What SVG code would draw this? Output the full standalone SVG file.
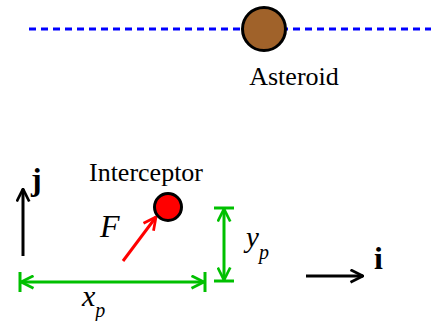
<svg xmlns="http://www.w3.org/2000/svg" width="431" height="321" viewBox="0 0 431 321">
<style>
text{font-family:'Liberation Serif','Times New Roman',serif;fill:#000}
.g{stroke:#00c000;stroke-width:3;fill:none}
.k{stroke:#000;stroke-width:3;fill:none}
</style>
<defs>
<marker id="ag" viewBox="0 0 12 12" refX="11" refY="6" markerWidth="5" markerHeight="5" orient="auto-start-reverse" markerUnits="strokeWidth"><path d="M1,1 L11,6 L1,11" fill="none" stroke="#00c000" stroke-width="2.2"/></marker>
<marker id="ak" viewBox="0 0 12 12" refX="11" refY="6" markerWidth="5" markerHeight="5" orient="auto" markerUnits="strokeWidth"><path d="M1,1 L11,6 L1,11" fill="none" stroke="#000" stroke-width="2.2"/></marker>
<marker id="ar" viewBox="0 0 12 12" refX="11" refY="6" markerWidth="5" markerHeight="5" orient="auto" markerUnits="strokeWidth"><path d="M1,1 L11,6 L1,11" fill="none" stroke="#ff0000" stroke-width="2.2"/></marker>
</defs>
<rect width="431" height="321" fill="#fff"/>
<g id="connectors">
<line x1="29" y1="29" x2="431" y2="29" stroke="#0000ff" stroke-width="3" stroke-dasharray="7,5"/>
<line class="k" x1="23" y1="256" x2="23" y2="189" marker-end="url(#ak)"/>
<line class="k" x1="306" y1="276" x2="363" y2="276" marker-end="url(#ak)"/>
<line x1="123" y1="261" x2="156" y2="217" stroke="#ff0000" stroke-width="3" marker-end="url(#ar)"/>
<line class="g" x1="21" y1="282" x2="204" y2="282" marker-start="url(#ag)" marker-end="url(#ag)"/>
<line class="g" x1="20" y1="272" x2="20" y2="292"/>
<line class="g" x1="205" y1="272" x2="205" y2="292"/>
<line class="g" x1="224" y1="209" x2="224" y2="280" marker-start="url(#ag)" marker-end="url(#ag)"/>
<line class="g" x1="214" y1="208" x2="234" y2="208"/>
<line class="g" x1="214" y1="281" x2="234" y2="281"/>
</g>
<g id="asteroid">
<circle cx="264" cy="29" r="21.5" fill="#a0622a" stroke="#000" stroke-width="3"/>
<text x="294" y="85" font-size="26" text-anchor="middle">Asteroid</text>
</g>
<g id="interceptor">
<circle cx="168" cy="207" r="13.5" fill="#ff0000" stroke="#000" stroke-width="3"/>
<text x="146" y="181" font-size="26" text-anchor="middle">Interceptor</text>
</g>
<g id="labels">
<text x="31" y="190" font-size="32" font-weight="bold">j</text>
<text x="374" y="269" font-size="32" font-weight="bold">i</text>
<text x="100" y="237" font-size="32" font-style="italic">F</text>
<text x="82" y="306" font-size="30" font-style="italic">x<tspan font-size="20" dy="11">p</tspan></text>
<text x="246" y="247" font-size="29" font-style="italic">y<tspan font-size="20" dy="12">p</tspan></text>
</g>
</svg>
